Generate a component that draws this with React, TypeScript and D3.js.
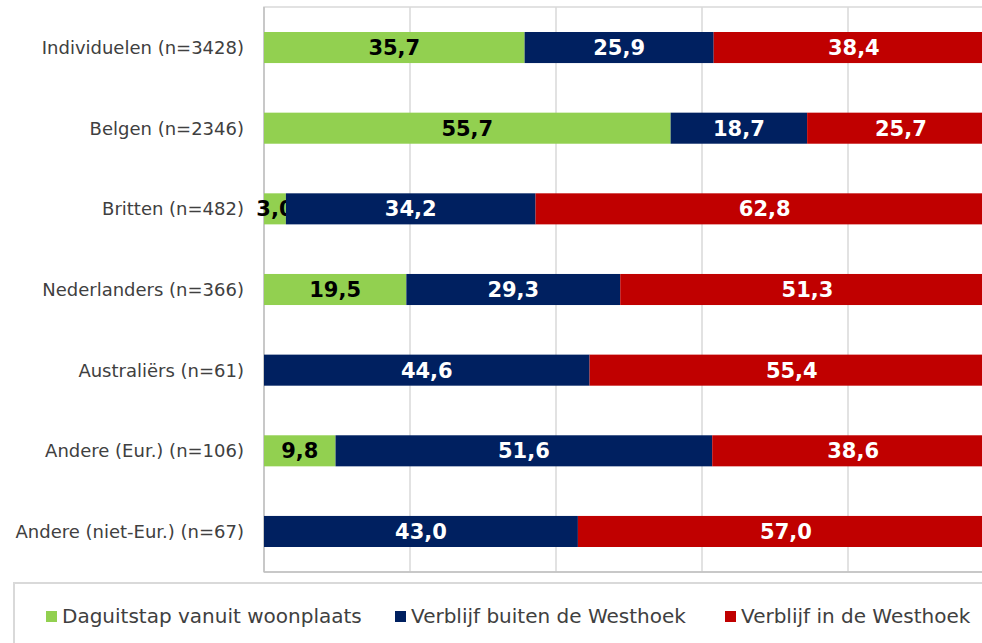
import React, { useRef, useEffect } from 'react';
import * as d3 from 'd3';

const categories = [
	'Individuelen (n=3428)',
	'Belgen (n=2346)',
	'Britten (n=482)',
	'Nederlanders (n=366)',
	'Australiërs (n=61)',
	'Andere (Eur.) (n=106)',
	'Andere (niet-Eur.) (n=67)',
];
const seriesNames = ['Daguitstap vanuit woonplaats', 'Verblijf buiten de Westhoek', 'Verblijf in de Westhoek'];
const daguitstap = [35.7, 55.7, 3.0, 19.5, 0, 9.8, 0];
const buiten = [25.9, 18.7, 34.2, 29.3, 44.6, 51.6, 43.0];
const inWesthoek = [38.4, 25.7, 62.8, 51.3, 55.4, 38.6, 57.0];
const xTicks = [0, 20, 40, 60, 80, 100];

const colors = ['#92D050', '#002060', '#C00000'];
const labelColors = ['#000000', '#ffffff', '#ffffff'];

export default function App() {
	const svgWidth = 982;
	const svgHeight = 643;
	const ref = useRef<SVGSVGElement>(null);

	useEffect(() => {
		if (!ref.current) return;
		const svg = d3.select(ref.current);
		svg.selectAll('*').remove();

		const margin = { top: 7, left: 264, bottom: 71 };
		const plotRight = 994;
		const plotBottom = svgHeight - margin.bottom;

		const x = d3.scaleLinear().domain([0, 100]).range([margin.left, plotRight]);
		const y = d3.scaleBand().domain(categories).range([margin.top, plotBottom]).paddingInner(0.615).paddingOuter(0.31);

		const rows = categories.map((c, i) => ({ cat: c, a: daguitstap[i], b: buiten[i], c: inWesthoek[i] }));
		const stack = d3.stack<any>().keys(['a', 'b', 'c'])(rows);

		// gridlines
		svg.append('g')
			.selectAll('line')
			.data(xTicks.slice(1))
			.join('line')
			.attr('x1', (d) => x(d))
			.attr('x2', (d) => x(d))
			.attr('y1', margin.top)
			.attr('y2', plotBottom)
			.attr('stroke', '#d9d9d9')
			.attr('stroke-width', 1.5);

		// plot frame
		svg.append('rect')
			.attr('x', margin.left)
			.attr('y', margin.top)
			.attr('width', plotRight - margin.left)
			.attr('height', plotBottom - margin.top)
			.attr('fill', 'none')
			.attr('stroke', '#d9d9d9')
			.attr('stroke-width', 1.5);
		svg.append('line')
			.attr('x1', margin.left)
			.attr('x2', margin.left)
			.attr('y1', margin.top)
			.attr('y2', plotBottom)
			.attr('stroke', '#bfbfbf')
			.attr('stroke-width', 1.5);
		svg.append('line')
			.attr('x1', margin.left)
			.attr('x2', plotRight)
			.attr('y1', plotBottom)
			.attr('y2', plotBottom)
			.attr('stroke', '#bfbfbf')
			.attr('stroke-width', 1.5);

		// bars
		stack.forEach((layer, si) => {
			const g = svg.append('g');
			g.selectAll('rect')
				.data(layer.filter((d) => d[1] - d[0] > 0))
				.join('rect')
				.attr('x', (d) => x(d[0]))
				.attr('y', (d) => y(d.data.cat)!)
				.attr('width', (d) => x(d[1]) - x(d[0]))
				.attr('height', y.bandwidth())
				.attr('fill', colors[si]);
			g.selectAll('text')
				.data(layer.filter((d) => d[1] - d[0] > 0))
				.join('text')
				.attr('x', (d) => (x(d[0]) + x(d[1])) / 2)
				.attr('y', (d) => y(d.data.cat)! + y.bandwidth() / 2)
				.attr('dy', '0.36em')
				.attr('text-anchor', 'middle')
				.style('font-family', 'DejaVu Sans, Verdana, sans-serif')
				.style('font-weight', 'bold')
				.style('font-size', '21px')
				.attr('fill', labelColors[si])
				.text((d) => d3.format('.1f')(d[1] - d[0]).replace('.', ','));
		});

		// category labels
		svg.append('g')
			.selectAll('text')
			.data(categories)
			.join('text')
			.attr('x', margin.left - 20)
			.attr('y', (d) => y(d)! + y.bandwidth() / 2)
			.attr('dy', '0.36em')
			.attr('text-anchor', 'end')
			.style('font-family', 'DejaVu Sans, Verdana, sans-serif')
			.style('font-size', '18px')
			.attr('fill', '#404040')
			.text((d) => d);

		// legend
		svg.append('rect')
			.attr('x', 14)
			.attr('y', 583)
			.attr('width', 1000)
			.attr('height', 100)
			.attr('fill', 'none')
			.attr('stroke', '#d9d9d9')
			.attr('stroke-width', 2);
		const legendX = [46, 395, 725];
		seriesNames.forEach((name, i) => {
			svg.append('rect')
				.attr('x', legendX[i])
				.attr('y', 611)
				.attr('width', 11)
				.attr('height', 11)
				.attr('fill', colors[i]);
			svg.append('text')
				.attr('x', legendX[i] + 16)
				.attr('y', 623)
				.style('font-family', 'DejaVu Sans, Verdana, sans-serif')
				.style('font-size', '20px')
				.attr('fill', '#404040')
				.text(name);
		});
	}, []);

	return (
		<svg
			ref={ref}
			width={svgWidth}
			height={svgHeight}
			style={{ position: 'fixed', left: 0, top: 0, background: '#fff' }}
		/>
	);
}
